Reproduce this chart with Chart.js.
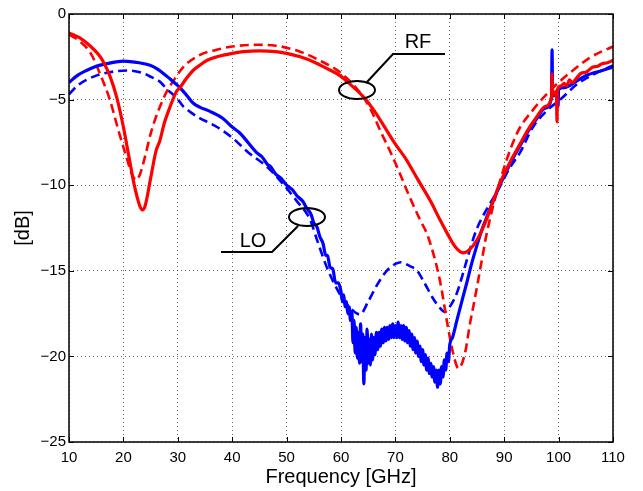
<!DOCTYPE html>
<html>
<head>
<meta charset="utf-8">
<script src="https://cdn.jsdelivr.net/npm/chart.js@4/dist/chart.umd.min.js"></script>
<style>
html,body{margin:0;padding:0;background:#fff;}
#wrap{width:643px;height:491px;}
</style>
</head>
<body>
<div id="wrap"><canvas id="c" width="643" height="491"></canvas></div>
<script>
// ---- data (frequency in GHz, level in dB) ----
const xTicks = [10,20,30,40,50,60,70,80,90,100,110];
const yTicks = [-25,-20,-15,-10,-5,0];

const rfMeasF = [10,12,14,15.5,16.5,17.5,18.8,20,21,22,23,23.5,24,25,26,26.7,27.5,28.6,29.8,30.4,31.5,32.8,34,35.4,37.2,40,42,45,48,50,52.5,55,57.5,59.8,62,64,66,68.4,70,72,74,76.4,78,79.5,81,82.4,83.5,85,86.5,88,89.2,91,92.9,94.5,96,97.5,98.7,98.8,98.9,99.6,99.7,99.8,100.5,101,101.5,102,102.5,103.4,104.2,105,106.3,107.2,108,109,110];
const rfMeasDb = [-1.1,-1.4,-1.9,-2.4,-2.9,-3.6,-4.9,-6.6,-8.3,-10.0,-11.2,-11.45,-11.2,-9.6,-8.0,-7.4,-6.4,-5.4,-4.5,-4.3,-3.8,-3.3,-3.0,-2.7,-2.5,-2.3,-2.2,-2.15,-2.2,-2.3,-2.5,-2.8,-3.2,-3.6,-4.2,-4.8,-5.6,-6.8,-7.6,-8.5,-9.6,-10.9,-11.9,-12.8,-13.6,-13.95,-13.8,-13.2,-12.2,-10.9,-9.9,-8.7,-7.6,-6.7,-6.0,-5.4,-4.85,-3.5,-4.75,-4.5,-6.3,-4.4,-4.2,-4.05,-4.2,-3.85,-4.0,-3.7,-3.45,-3.4,-3.1,-3.05,-2.9,-2.85,-2.7];

const rfSimF = [10,12,14,15.7,17.5,19,20.5,21.5,22.3,23,24,25,26,27,28,29,31,34,37,40,44.5,48,52.5,56,59.8,63.5,65.5,67.2,69,70.8,72.5,74.5,76,78.2,79.5,80.6,81.6,82.8,83.7,84.5,86.1,86.8,89,92.3,95.3,99,103.4,106,110];
const rfSimDb = [-1.2,-1.6,-2.3,-3.5,-5.0,-6.7,-8.3,-9.3,-9.7,-9.4,-8.3,-7.0,-6.0,-5.2,-4.5,-4.0,-3.1,-2.4,-2.1,-1.9,-1.8,-1.85,-2.2,-2.7,-3.4,-4.6,-5.6,-6.8,-8.0,-9.3,-10.6,-12.0,-13.0,-15.6,-18.0,-19.8,-20.7,-19.8,-18.1,-16.8,-14.0,-12.8,-10.0,-7.0,-5.6,-4.3,-3.1,-2.5,-1.9];

const loMeasF = [10,11.5,13.2,15,17,20,22.9,24.9,26.2,28.6,30.4,32,32.8,34.1,36,38.3,40,41.4,44.5,45.5,46.5,47,48,49,50,51,52,53,53.7,54.5,55,55.6,56.1,56.7,57.2,57.5,58,58.5,59,59.5,60,60.25,60.5,60.75,61,61.25,61.5,61.75,62,62.2,62.4,62.6,62.8,63,63.2,63.4,63.6,63.8,64,64.2,64.4,64.6,64.8,65,65.2,65.4,65.6,65.8,66,66.25,66.5,66.75,67,67.25,67.5,67.75,68,68.25,68.5,68.75,69,69.25,69.5,69.75,70,70.25,70.5,70.75,71,71.25,71.5,71.75,72,72.25,72.5,72.75,73,73.25,73.5,73.75,74,74.25,74.5,74.75,75,75.25,75.5,75.75,76,76.25,76.5,76.75,77,77.25,77.5,77.75,78,78.25,78.5,78.75,79,79.25,79.5,79.75,80,80.5,81.3,82.2,83.2,84,85,85.9,87,88,89.2,91,92.9,94.5,96,97.5,98.7,98.8,98.9,99.8,99.9,100,101,103.4,105,108,110];
const loMeasDb = [-4.0,-3.6,-3.3,-3.05,-2.9,-2.75,-2.85,-3.0,-3.2,-3.8,-4.3,-4.9,-5.2,-5.45,-5.7,-6.1,-6.6,-6.95,-8.1,-8.35,-8.8,-8.9,-9.35,-9.6,-10.0,-10.25,-10.65,-10.95,-11.35,-11.7,-12.2,-12.45,-13.0,-13.4,-14.1,-14.1,-14.8,-14.9,-15.7,-15.7,-16.2,-16.8,-16.4,-17.1,-16.8,-17.5,-17.1,-17.9,-17.4,-19.2,-17.9,-19.8,-18.3,-20.1,-18.6,-20.4,-18.1,-20.3,-18.7,-21.6,-18.9,-20.8,-18.4,-20.4,-19.0,-20.5,-18.7,-20.2,-18.9,-19.9,-18.6,-19.6,-18.6,-19.4,-18.4,-19.2,-18.3,-19.1,-18.3,-19.0,-18.2,-18.9,-18.1,-18.9,-18.2,-18.9,-18.0,-18.9,-18.2,-19.0,-18.2,-19.1,-18.3,-19.2,-18.5,-19.4,-18.7,-19.6,-18.9,-19.8,-19.1,-20.0,-19.4,-20.3,-19.6,-20.5,-19.9,-20.8,-20.1,-21.0,-20.4,-21.2,-20.6,-21.5,-20.8,-21.8,-20.8,-21.6,-20.6,-21.2,-20.2,-20.8,-19.8,-20.3,-19.3,-18.9,-17.9,-16.8,-15.6,-14.6,-13.5,-12.6,-11.7,-10.9,-10.0,-8.8,-7.7,-6.8,-6.1,-5.5,-4.9,-2.1,-4.8,-4.6,-5.4,-4.4,-4.3,-3.9,-3.6,-3.3,-3.1];

const loSimF = [10,11.5,13.2,15,17.5,20.6,23.6,24.9,26.7,28,29.8,31,32.2,34.1,35.4,37.2,40.1,43,46.3,49,51.8,54.3,55.6,57.4,59.5,61.5,63.5,65,66.5,68.4,70,71,72.5,74,75.5,76.9,78,79.1,80.2,81.3,82.2,83.1,84.9,86.8,89,91,92.9,95.3,98,100.3,103.4,106,110];
const loSimDb = [-4.7,-4.2,-3.85,-3.6,-3.4,-3.3,-3.45,-3.65,-3.95,-4.4,-4.9,-5.4,-5.7,-6.1,-6.3,-6.6,-7.25,-8.1,-8.9,-9.8,-10.9,-12.0,-13.2,-14.8,-16.2,-17.1,-17.55,-16.8,-15.9,-15.0,-14.6,-14.5,-14.7,-15.0,-15.8,-16.6,-17.1,-17.4,-17.0,-16.3,-15.4,-14.4,-12.6,-11.4,-10.2,-9.0,-8.1,-6.6,-5.6,-5.0,-4.1,-3.6,-3.0];

// annotations (data coordinates)
const annotationLabels = ['RF','LO'];
const annotationTextAt = [[74.15,-1.69],[43.82,-13.26]];
const leaderLines = [[[79.12,-2.34],[69.56,-2.34],[64.78,-3.97]],[[37.94,-13.90],[47.32,-13.90],[52.1,-12.38]]];
const ellipseCenters = [[62.94,-4.44],[53.75,-11.86]];

const toPts = (xs, ys) => xs.map((x,i) => ({x:x, y:ys[i]}));

const framePlugin = {
  id:'frame',
  afterDatasetsDraw(chart){
    const ctx = chart.ctx, a = chart.chartArea, xs = chart.scales.x, ys = chart.scales.y;
    ctx.save();
    ctx.strokeStyle = '#000'; ctx.lineWidth = 1;
    ctx.beginPath();
    xTicks.forEach(v => { const p = Math.round(xs.getPixelForValue(v))+0.5;
      ctx.moveTo(p, a.bottom); ctx.lineTo(p, a.bottom-5);
      ctx.moveTo(p, a.top); ctx.lineTo(p, a.top+5); });
    yTicks.forEach(v => { const p = Math.round(ys.getPixelForValue(v))+0.5;
      ctx.moveTo(a.left, p); ctx.lineTo(a.left+5, p);
      ctx.moveTo(a.right, p); ctx.lineTo(a.right-5, p); });
    ctx.stroke();
    ctx.lineWidth = 1.5;
    ctx.strokeRect(a.left, a.top, a.right-a.left, a.bottom-a.top);
    ctx.lineWidth = 2;
    leaderLines.forEach(line => {
      ctx.beginPath();
      line.forEach((pt,i) => { const px = xs.getPixelForValue(pt[0]), py = ys.getPixelForValue(pt[1]);
        if (i===0) ctx.moveTo(px,py); else ctx.lineTo(px,py); });
      ctx.stroke();
    });
    ellipseCenters.forEach(c => {
      ctx.beginPath();
      ctx.ellipse(xs.getPixelForValue(c[0]), ys.getPixelForValue(c[1]), 18, 9, 0, 0, Math.PI*2);
      ctx.stroke();
    });
    ctx.fillStyle = '#000';
    ctx.font = '20px "Liberation Sans", Arial, sans-serif';
    ctx.textAlign = 'center'; ctx.textBaseline = 'middle';
    annotationLabels.forEach((t,i) => {
      ctx.fillText(t, xs.getPixelForValue(annotationTextAt[i][0]), ys.getPixelForValue(annotationTextAt[i][1]));
    });
    ctx.restore();
  }
};

const lineDs = (label, xs, ys, color, dashed, order) => ({
  label, data: toPts(xs, ys), borderColor: color, backgroundColor: color,
  borderWidth: dashed ? 2.6 : 3.2, borderDash: dashed ? [9,5] : [],
  pointRadius: 0, fill: false, cubicInterpolationMode: 'monotone', order
});

new Chart(document.getElementById('c'), {
  type: 'line',
  data: { datasets: [
    lineDs('RF measured', rfMeasF, rfMeasDb, '#ff0000', false, 0),
    lineDs('LO measured', loMeasF, loMeasDb, '#0000ff', false, 1),
    lineDs('RF simulated', rfSimF, rfSimDb, '#ff0000', true, 2),
    lineDs('LO simulated', loSimF, loSimDb, '#0000ff', true, 3)
  ]},
  options: {
    responsive: false, animation: false, devicePixelRatio: 1,
    layout: { padding: { left: 0, top: 14, right: 30, bottom: 0 } },
    plugins: { legend: { display: false }, tooltip: { enabled: false } },
    scales: {
      x: {
        type: 'linear', min: 10, max: 110,
        afterBuildTicks: s => { s.ticks = xTicks.map(v => ({value: v})); },
        afterFit: s => { s.height = 49; },
        grid: { color: 'rgba(0,0,0,0.6)', lineWidth: 1, drawTicks: false },
        border: { display: false, dash: [1,3] },
        ticks: { color: '#000', padding: 7, font: { family: '"Liberation Sans", Arial, sans-serif', size: 15 } },
        title: { display: true, text: 'Frequency [GHz]', color: '#000', padding: { top: 0, bottom: 2 },
                 font: { family: '"Liberation Sans", Arial, sans-serif', size: 20 } }
      },
      y: {
        type: 'linear', min: -25, max: 0,
        afterBuildTicks: s => { s.ticks = yTicks.map(v => ({value: v})); },
        afterFit: s => { s.width = 69; },
        grid: { color: 'rgba(0,0,0,0.6)', lineWidth: 1, drawTicks: false },
        border: { display: false, dash: [1,3] },
        ticks: { color: '#000', padding: 3, font: { family: '"Liberation Sans", Arial, sans-serif', size: 15 },
                 callback: v => (v < 0 ? '\u2212' + Math.abs(v) : String(v)) },
        title: { display: true, text: '[dB]', color: '#000', padding: { top: 11, bottom: 0 },
                 font: { family: '"Liberation Sans", Arial, sans-serif', size: 20 } }
      }
    }
  },
  plugins: [framePlugin]
});
</script>
</body>
</html>
